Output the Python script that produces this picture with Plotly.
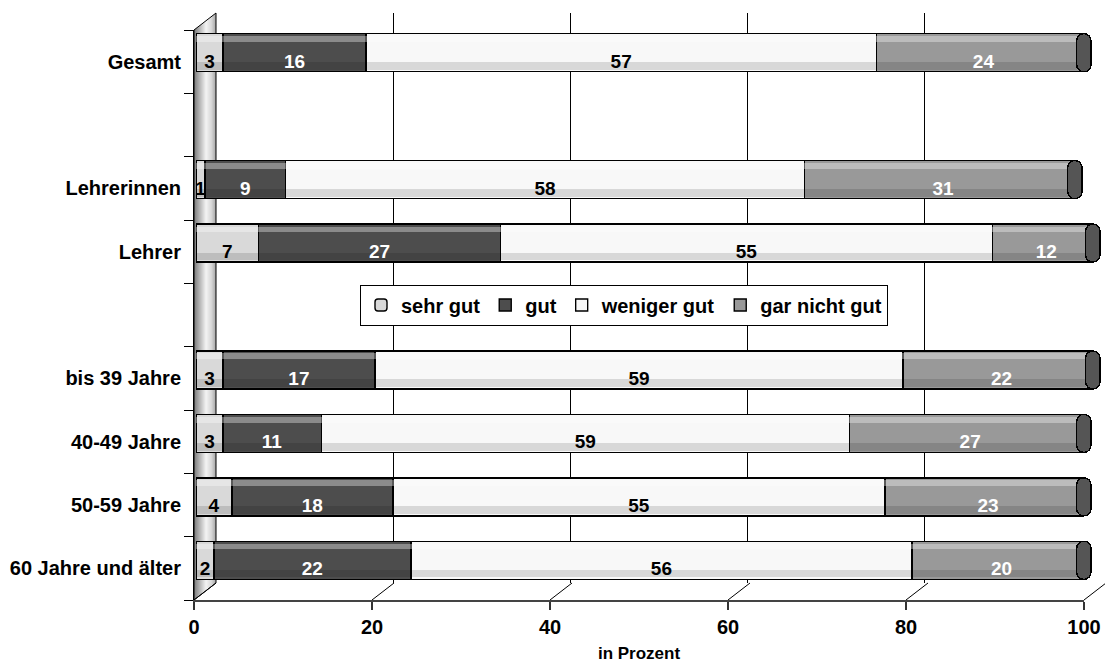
import plotly.graph_objects as go

# ---------------- data ----------------
categories = ["Gesamt", "", "Lehrerinnen", "Lehrer", "", "bis 39 Jahre",
              "40-49 Jahre", "50-59 Jahre", "60 Jahre und älter"]
series_names = ["sehr gut", "gut", "weniger gut", "gar nicht gut"]
sehr_gut = [3, None, 1, 7, None, 3, 3, 4, 2]
gut = [16, None, 9, 27, None, 17, 11, 18, 22]
weniger_gut = [57, None, 58, 55, None, 59, 59, 55, 56]
gar_nicht_gut = [24, None, 31, 12, None, 22, 27, 23, 20]
x_ticks = [0, 20, 40, 60, 80, 100]
x_title = "in Prozent"

# ---------------- style ----------------
W, H = 1105, 663
FONT = "Liberation Sans, Arial, sans-serif"
fill_colors = ["#d9d9d9", "#4d4d4d", "#f8f8f8", "#999999"]
text_colors = ["black", "white", "black", "white"]
CAP = 1.6  # length of the cylinder end cap in axis units
BAR_PX_PER_UNIT = 8.95
BAR_X0 = 196
BAR_RANGE_MAX = 101.3


def px(x):
    return x / W


def py(y):
    return 1 - y / H


series = [sehr_gut, gut, weniger_gut, gar_nicht_gut]
rows = list(range(len(categories)))
valid_rows = [r for r in rows if sehr_gut[r] is not None]
totals = [sum(s[r] for s in series) for r in valid_rows]

fig = go.Figure()

# back wall grid subplot (drawn first, behind everything)
fig.add_trace(go.Scatter(x=[None], y=[None], xaxis="x", yaxis="y",
                         showlegend=False, hoverinfo="skip"))

# main stacked bars
for i, (name, vals) in enumerate(zip(series_names, series)):
    marker = dict(color=fill_colors[i], line=dict(color="black", width=1.4))
    if i == 0:
        marker["cornerradius"] = 7
    fig.add_trace(go.Bar(
        y=rows, x=vals, orientation="h", name=name,
        xaxis="x2", yaxis="y2", width=0.6, marker=marker,
        customdata=categories,
        hovertemplate="%{customdata}: %{x}<extra>" + name + "</extra>",
    ))

# cylinder shading bands + end caps (overlay axis y3)
fig.add_trace(go.Bar(
    y=valid_rows, x=[t - CAP for t in totals], base=0, orientation="h",
    xaxis="x2", yaxis="y3", width=0.09, offset=-0.26,
    marker=dict(color="rgba(255,255,255,0.35)", line=dict(width=0),
                cornerradius=0),
    showlegend=False, hoverinfo="skip"))
fig.add_trace(go.Bar(
    y=valid_rows, x=[t - CAP for t in totals], base=0, orientation="h",
    xaxis="x2", yaxis="y3", width=0.12, offset=0.15,
    marker=dict(color="rgba(0,0,0,0.13)", line=dict(width=0),
                cornerradius=0),
    showlegend=False, hoverinfo="skip"))
fig.add_trace(go.Bar(
    y=valid_rows, x=[CAP] * len(totals), base=[t - CAP for t in totals],
    orientation="h", xaxis="x2", yaxis="y3", width=0.6,
    marker=dict(color="#555555", line=dict(color="black", width=1.4),
                cornerradius=7),
    showlegend=False, hoverinfo="skip"))

# front axes subplot (needs a trace so that its axes are drawn)
fig.add_trace(go.Scatter(x=[None], y=[None], xaxis="x3", yaxis="y4",
                         showlegend=False, hoverinfo="skip"))

# value labels, placed on the front face (front category axis y4)
for i, (name, vals) in enumerate(zip(series_names, series)):
    fig.add_trace(go.Bar(
        y=rows, x=vals, orientation="h", xaxis="x2", yaxis="y4", width=0.6,
        marker=dict(color="rgba(0,0,0,0)", line=dict(width=0)),
        text=vals, texttemplate="%{x}", textposition="inside",
        insidetextanchor="middle", textangle=0, constraintext="none",
        textfont=dict(family=FONT, size=19, color=text_colors[i], weight="bold"),
        showlegend=False, hoverinfo="skip",
    ))

# ---------------- decorative 3D frame ----------------
shapes = []
WALL_X0, WALL_X1 = 194, 216
DEPTH_Y = 17
TOP_FRONT, BOT_FRONT = 30, 600
stops = [(0.0, 120), (0.3, 190), (0.55, 244), (0.8, 214), (1.0, 165)]


def gray_at(t):
    for (t0, g0), (t1, g1) in zip(stops[:-1], stops[1:]):
        if t0 <= t <= t1:
            g = g0 + (g1 - g0) * (t - t0) / (t1 - t0)
            return f"rgb({int(g)},{int(g)},{int(g)})"
    return "rgb(160,160,160)"


N = 22
for k in range(N):
    xa = WALL_X0 + (WALL_X1 - WALL_X0) * k / N
    xb = WALL_X0 + (WALL_X1 - WALL_X0) * (k + 1.15) / N
    xb = min(xb, WALL_X1)
    ya_t = TOP_FRONT - DEPTH_Y * (xa - WALL_X0) / (WALL_X1 - WALL_X0)
    yb_t = TOP_FRONT - DEPTH_Y * (xb - WALL_X0) / (WALL_X1 - WALL_X0)
    ya_b = BOT_FRONT - DEPTH_Y * (xa - WALL_X0) / (WALL_X1 - WALL_X0)
    yb_b = BOT_FRONT - DEPTH_Y * (xb - WALL_X0) / (WALL_X1 - WALL_X0)
    path = (f"M{px(xa)},{py(ya_t)} L{px(xb)},{py(yb_t)} "
            f"L{px(xb)},{py(yb_b)} L{px(xa)},{py(ya_b)} Z")
    shapes.append(dict(type="path", xref="paper", yref="paper", path=path,
                       fillcolor=gray_at((k + 0.5) / N), line=dict(width=0),
                       layer="below"))
# wall outline
shapes.append(dict(
    type="path", xref="paper", yref="paper", layer="below",
    path=(f"M{px(WALL_X0)},{py(BOT_FRONT)} L{px(WALL_X0)},{py(TOP_FRONT)} "
          f"L{px(WALL_X1)},{py(TOP_FRONT - DEPTH_Y)} "
          f"L{px(WALL_X1)},{py(BOT_FRONT - DEPTH_Y)} Z"),
    line=dict(color="black", width=1)))
# floor diagonals at the front tick positions
FRONT_X0, FRONT_X1 = 194, 1084
for t in x_ticks:
    xf = FRONT_X0 + (FRONT_X1 - FRONT_X0) * t / 100
    shapes.append(dict(type="line", xref="paper", yref="paper", layer="below",
                       x0=px(xf), y0=py(BOT_FRONT),
                       x1=px(xf + 22), y1=py(BOT_FRONT - DEPTH_Y),
                       line=dict(color="black", width=1)))

bold = dict(family=FONT, color="black", weight="bold")

fig.update_layout(
    width=W, height=H, autosize=False,
    margin=dict(l=0, r=0, t=0, b=0),
    paper_bgcolor="white", plot_bgcolor="rgba(0,0,0,0)",
    barmode="stack", bargap=0.4,
    font=dict(family=FONT, color="black"),
    shapes=shapes,
    showlegend=True,
    legend=dict(orientation="h", x=px(624), y=py(305), xanchor="center",
                yanchor="middle", bgcolor="white", bordercolor="black",
                borderwidth=1, font=dict(size=20, **bold),
                traceorder="normal", itemwidth=30),
    # back wall grid
    xaxis=dict(domain=[px(216), px(1101)], range=[0, 100], anchor="y",
               tickmode="array", tickvals=[0, 20, 40, 60, 80],
               showgrid=True, gridcolor="black", gridwidth=1,
               showticklabels=False, ticks="", zeroline=False,
               showline=False, fixedrange=True, automargin=False),
    yaxis=dict(domain=[py(583), py(13)], range=[0, 1], anchor="x",
               showgrid=False, showticklabels=False, ticks="",
               zeroline=False, showline=False, fixedrange=True,
               automargin=False),
    # bars
    xaxis2=dict(domain=[px(BAR_X0),
                        px(BAR_X0 + BAR_PX_PER_UNIT * BAR_RANGE_MAX)],
                range=[0, BAR_RANGE_MAX], anchor="y2",
                visible=False, fixedrange=True, automargin=False),
    yaxis2=dict(domain=[py(592), py(21)], range=[8.5, -0.5], anchor="x2",
                visible=False, fixedrange=True, automargin=False),
    yaxis3=dict(overlaying="y2", range=[8.5, -0.5], anchor="x2",
                visible=False, fixedrange=True, automargin=False),
    # front axes
    xaxis3=dict(domain=[px(FRONT_X0), px(FRONT_X1)], range=[0, 100],
                anchor="y4", tickmode="array", tickvals=x_ticks,
                ticks="outside", ticklen=8, tickcolor="#333", tickwidth=1.5,
                showline=True, linecolor="#444", linewidth=2,
                showgrid=False, zeroline=False,
                tickfont=dict(size=20, **bold),
                title=dict(text=x_title, font=dict(size=17, **bold),
                           standoff=10),
                fixedrange=True, automargin=False),
    yaxis4=dict(domain=[py(BOT_FRONT), py(TOP_FRONT)], range=[8.5, -0.5],
                anchor="x3", tickmode="array", tickvals=rows,
                ticktext=categories, ticks="",
                minor=dict(ticks="outside", ticklen=9, tickcolor="black",
                           tickwidth=1, tickmode="array",
                           tickvals=[r - 0.5 for r in rows] + [rows[-1] + 0.5],
                           showgrid=False),
                showline=True, linecolor="black", linewidth=1,
                showgrid=False, zeroline=False, ticklabelstandoff=8,
                tickfont=dict(size=20, **bold), fixedrange=True,
                automargin=False),
)

fig.write_html("out.html", config={"displayModeBar": False},
               post_script="document.body.style.margin='0px';")
